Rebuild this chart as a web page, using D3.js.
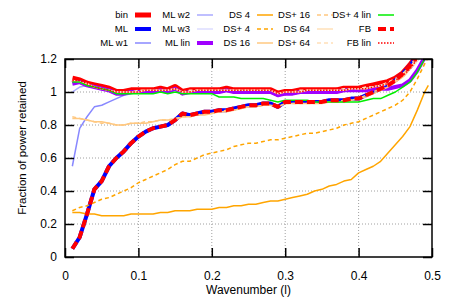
<!DOCTYPE html>
<html>
<head>
<meta charset="utf-8">
<script src="https://cdn.jsdelivr.net/npm/d3@7/dist/d3.min.js"></script>
<style>
  body { margin: 0; background: #fff; }
  svg { display: block; font-family: "Liberation Sans", Arial, sans-serif; }
</style>
</head>
<body>
<svg id="chart" width="457" height="305"></svg>
<script>
// wavenumber samples (x axis)
var wavenumber = [0.01,0.02,0.03,0.04,0.05,0.06,0.07,0.08,0.09,0.10,
                  0.11,0.12,0.13,0.14,0.15,0.16,0.17,0.18,0.19,0.20,
                  0.21,0.22,0.23,0.24,0.25,0.26,0.27,0.28,0.29,0.30,
                  0.31,0.32,0.33,0.34,0.35,0.36,0.37,0.38,0.39,0.40,
                  0.41,0.42,0.43,0.44,0.45,0.46,0.47,0.48,0.49,0.495]

var binVals = [1.08,1.07,1.05,1.04,1.03,1.02,1.00,1.00,1.01,1.01,
               1.01,1.01,1.02,1.01,1.03,1.00,1.01,1.01,1.01,1.01,
               1.01,1.02,1.01,1.01,1.01,1.01,1.01,1.01,0.99,1.00,
               1.00,1.01,1.01,1.01,1.01,1.01,1.01,1.02,1.02,1.02,
               1.03,1.04,1.05,1.06,1.08,1.11,1.16,1.22,1.29,1.32]
var mlVals = [0.05,0.12,0.26,0.41,0.46,0.55,0.60,0.64,0.69,0.73,
              0.76,0.78,0.79,0.80,0.83,0.87,0.86,0.87,0.88,0.88,
              0.89,0.89,0.90,0.91,0.92,0.92,0.93,0.93,0.91,0.94,
              0.94,0.94,0.94,0.94,0.94,0.95,0.95,0.95,0.96,0.96,
              0.98,1.00,1.02,1.04,1.07,1.11,1.16,1.22,1.29,1.32]
var mlW1Vals = [0.55,0.78,0.85,0.91,0.92,0.94,0.96,0.98,0.99,1.00,
                1.00,1.00,1.01,1.00,1.02,0.99,1.00,1.00,1.00,1.00,
                1.00,1.01,1.00,1.00,1.00,1.00,1.00,1.00,0.98,0.99,
                0.99,1.00,1.00,1.00,1.00,1.00,1.00,1.01,1.01,1.01,
                1.02,1.03,1.04,1.05,1.07,1.10,1.14,1.19,1.25,1.28]
var mlW2Vals = [1.00,1.03,1.04,1.03,1.02,1.01,1.00,1.00,1.00,1.00,
                1.00,1.00,1.01,1.00,1.02,0.99,1.00,1.00,1.00,1.00,
                1.00,1.01,1.00,1.00,1.00,1.00,1.00,1.00,0.98,0.99,
                0.99,1.00,1.00,1.00,1.00,1.00,1.00,1.01,1.01,1.01,
                1.02,1.03,1.04,1.05,1.07,1.10,1.14,1.19,1.25,1.28]
var mlW3Vals = [1.06,1.06,1.04,1.03,1.02,1.01,1.00,1.00,1.00,1.00,
                1.00,1.00,1.01,1.00,1.02,0.99,1.00,1.00,1.00,1.00,
                1.00,1.01,1.00,1.00,1.00,1.00,1.00,1.00,0.98,0.99,
                0.99,1.00,1.00,1.00,1.00,1.00,1.00,1.01,1.01,1.01,
                1.02,1.03,1.04,1.05,1.07,1.10,1.14,1.19,1.25,1.28]
var mlLinVals = [1.05,1.06,1.04,1.03,1.02,1.01,0.99,0.99,1.00,1.00,
                 1.00,1.00,1.01,1.00,1.02,0.99,1.00,1.00,1.00,1.00,
                 1.00,1.01,1.00,1.00,1.00,1.00,1.00,1.00,0.98,0.99,
                 0.99,1.00,1.00,1.00,1.00,1.00,1.00,1.01,1.01,1.01,
                 1.01,1.02,1.02,1.02,1.03,1.04,1.07,1.13,1.21,1.25]
var ds4Vals = [0.27,0.27,0.26,0.26,0.25,0.25,0.25,0.25,0.26,0.26,
               0.26,0.26,0.27,0.27,0.28,0.28,0.28,0.29,0.29,0.29,
               0.30,0.30,0.31,0.31,0.32,0.32,0.33,0.34,0.34,0.35,
               0.36,0.37,0.38,0.40,0.41,0.43,0.44,0.46,0.47,0.51,
               0.53,0.55,0.58,0.63,0.68,0.73,0.79,0.89,1.00,1.04]
var dsp4Vals = [0.28,0.30,0.31,0.33,0.35,0.36,0.38,0.40,0.42,0.45,
                0.47,0.49,0.51,0.53,0.56,0.58,0.58,0.60,0.62,0.63,
                0.64,0.65,0.67,0.68,0.69,0.69,0.70,0.71,0.71,0.72,
                0.73,0.74,0.75,0.75,0.76,0.77,0.78,0.80,0.81,0.82,
                0.84,0.86,0.88,0.90,0.92,0.95,1.00,1.08,1.17,1.21]
var ds16Vals = [0.84,0.84,0.83,0.82,0.82,0.81,0.80,0.80,0.81,0.81,
                0.81,0.82,0.83,0.83,0.83,0.85,0.85,0.86,0.86,0.87,
                0.88,0.88,0.89,0.90,0.91,0.91,0.92,0.92,0.91,0.93,
                0.93,0.93,0.93,0.93,0.93,0.94,0.94,0.94,0.95,0.96,
                0.97,0.99,1.01,1.03,1.06,1.09,1.14,1.20,1.27,1.30]
var dsp16Vals = [0.85,0.84,0.83,0.82,0.81,0.81,0.80,0.80,0.81,0.81,
                 0.82,0.82,0.83,0.83,0.84,0.85,0.85,0.86,0.87,0.87,
                 0.88,0.89,0.89,0.90,0.91,0.91,0.92,0.92,0.91,0.93,
                 0.93,0.93,0.93,0.93,0.94,0.94,0.94,0.95,0.95,0.96,
                 0.98,1.00,1.02,1.04,1.07,1.11,1.16,1.22,1.29,1.32]
var ds64Vals = [1.07,1.06,1.05,1.03,1.02,1.01,1.00,1.00,1.00,1.00,
                1.01,1.01,1.01,1.01,1.02,1.00,1.00,1.01,1.01,1.01,
                1.01,1.01,1.01,1.01,1.01,1.01,1.01,1.01,0.99,1.00,
                1.00,1.00,1.01,1.01,1.01,1.01,1.01,1.01,1.02,1.02,
                1.02,1.03,1.04,1.05,1.07,1.10,1.14,1.19,1.26,1.29]
var dsp64Vals = [1.07,1.06,1.05,1.03,1.02,1.01,1.00,1.00,1.00,1.01,
                 1.01,1.01,1.01,1.01,1.02,1.00,1.01,1.01,1.01,1.01,
                 1.01,1.01,1.01,1.01,1.01,1.01,1.01,1.01,0.99,1.00,
                 1.00,1.01,1.01,1.01,1.01,1.01,1.01,1.02,1.02,1.02,
                 1.03,1.03,1.04,1.06,1.08,1.11,1.15,1.21,1.27,1.30]
var dsp4LinVals = [1.06,1.06,1.04,1.03,1.02,1.01,0.99,0.99,0.99,0.99,
                   0.99,0.99,1.00,0.99,1.00,0.99,0.99,0.99,0.99,0.99,
                   0.97,0.97,0.97,0.96,0.96,0.96,0.96,0.95,0.94,0.95,
                   0.95,0.95,0.95,0.94,0.94,0.94,0.94,0.94,0.94,0.94,
                   0.95,0.96,0.96,0.98,1.00,1.03,1.06,1.12,1.20,1.24]
var fbVals = [0.05,0.12,0.26,0.41,0.46,0.55,0.60,0.64,0.69,0.73,
              0.76,0.78,0.79,0.80,0.83,0.87,0.86,0.87,0.88,0.88,
              0.89,0.89,0.90,0.91,0.92,0.92,0.93,0.93,0.91,0.94,
              0.94,0.94,0.94,0.94,0.94,0.95,0.95,0.95,0.96,0.96,
              0.98,1.00,1.02,1.04,1.07,1.11,1.16,1.22,1.29,1.32]
var fbLinVals = [1.07,1.07,1.05,1.03,1.02,1.01,1.00,1.00,1.00,1.00,
                 1.01,1.01,1.01,1.01,1.02,1.00,1.00,1.01,1.01,1.01,
                 1.01,1.01,1.01,1.01,1.01,1.01,1.01,1.01,0.99,1.00,
                 1.00,1.00,1.01,1.01,1.01,1.01,1.01,1.01,1.02,1.02,
                 1.02,1.03,1.04,1.05,1.07,1.10,1.14,1.20,1.27,1.30]

var yTicks = [0, 0.2, 0.4, 0.6, 0.8, 1, 1.2]
var xTicks = [0, 0.1, 0.2, 0.3, 0.4, 0.5]

// name, values, colour, width, dash
var series = [
    {name:"bin",       vals:binVals,     color:"#ff0000", width:6,   dash:null},
    {name:"ML",        vals:mlVals,      color:"#0000ff", width:4,   dash:null},
    {name:"ML w1",     vals:mlW1Vals,    color:"#8888ff", width:1.5, dash:null},
    {name:"ML w2",     vals:mlW2Vals,    color:"#aaaaff", width:1.5, dash:null},
    {name:"ML w3",     vals:mlW3Vals,    color:"#ddddff", width:1.5, dash:null},
    {name:"ML lin",    vals:mlLinVals,   color:"#a000ff", width:4,   dash:null},
    {name:"DS 4",      vals:ds4Vals,     color:"#ffa500", width:1.5, dash:null},
    {name:"DS+ 4",     vals:dsp4Vals,    color:"#ffa500", width:1.5, dash:"4,3"},
    {name:"DS 16",     vals:ds16Vals,    color:"#ffc880", width:1.5, dash:null},
    {name:"DS+ 16",    vals:dsp16Vals,   color:"#ffc880", width:1.5, dash:"4,3"},
    {name:"DS 64",     vals:ds64Vals,    color:"#ffe0b8", width:1.5, dash:null},
    {name:"DS+ 64",    vals:dsp64Vals,   color:"#ffe0b8", width:1.5, dash:"4,3"},
    {name:"DS+ 4 lin", vals:dsp4LinVals, color:"#00ee00", width:1.5, dash:null},
    {name:"FB",        vals:fbVals,      color:"#ff0000", width:4,   dash:"8,4"},
    {name:"FB lin",    vals:fbLinVals,   color:"#ff0000", width:1.5, dash:"1.5,1.5"}
]

var plot = {left:65, right:432, top:59, bottom:257}

var svg = d3.select("#chart")

var xScale = d3.scaleLinear()
    .domain([0, 0.5])
    .range([plot.left, plot.right])

var yScale = d3.scaleLinear()
    .domain([0, 1.2])
    .range([plot.bottom, plot.top])

var drawGrid = function() {
    var grid = svg.append("g")
        .attr("stroke", "#a0a0a0")
        .attr("stroke-width", 1)
        .attr("stroke-dasharray", "1,2")
    grid.selectAll(".gy")
        .data(yTicks.slice(1, -1))
        .enter()
        .append("line")
            .attr("x1", plot.left)
            .attr("x2", plot.right)
            .attr("y1", d => yScale(d))
            .attr("y2", d => yScale(d))
    grid.selectAll(".gx")
        .data(xTicks.slice(1, -1))
        .enter()
        .append("line")
            .attr("x1", d => xScale(d))
            .attr("x2", d => xScale(d))
            .attr("y1", plot.top)
            .attr("y2", plot.bottom)
}

var drawLines = function() {
    svg.append("clipPath").attr("id", "clip")
      .append("rect")
        .attr("x", plot.left)
        .attr("y", plot.top)
        .attr("width", plot.right - plot.left)
        .attr("height", plot.bottom - plot.top)

    var line = d3.line()
        .x((d, i) => xScale(wavenumber[i]))
        .y(d => yScale(d))

    svg.append("g")
        .attr("clip-path", "url(#clip)")
        .selectAll("path")
        .data(series)
        .enter()
        .append("path")
            .attr("fill", "none")
            .attr("stroke", d => d.color)
            .attr("stroke-width", d => d.width)
            .attr("stroke-dasharray", d => d.dash)
            .attr("stroke-linejoin", "round")
            .attr("d", d => line(d.vals))
}

var drawAxes = function() {
    var fmt = d3.format("")
    var tick = 9

    svg.append("g")
        .attr("transform", "translate(" + plot.left + ",0)")
        .call(d3.axisLeft(yScale).tickValues(yTicks).tickSize(-tick).tickPadding(8).tickFormat(fmt))
    svg.append("g")
        .attr("transform", "translate(" + plot.right + ",0)")
        .call(d3.axisRight(yScale).tickValues(yTicks).tickSize(-tick).tickFormat(""))
    svg.append("g")
        .attr("transform", "translate(0," + plot.bottom + ")")
        .call(d3.axisBottom(xScale).tickValues(xTicks).tickSize(-tick).tickPadding(14).tickFormat(fmt))
    svg.append("g")
        .attr("transform", "translate(0," + plot.top + ")")
        .call(d3.axisTop(xScale).tickValues(xTicks).tickSize(-tick).tickFormat(""))

    svg.selectAll(".domain").remove()
    svg.selectAll(".tick line").attr("stroke", "#000").attr("stroke-width", 1.5)
    svg.selectAll(".tick text")
        .attr("fill", "#000")
        .style("font-size", "12px")
        .style("font-family", "'Liberation Sans', Arial, sans-serif")

    svg.append("rect")
        .attr("x", plot.left)
        .attr("y", plot.top)
        .attr("width", plot.right - plot.left)
        .attr("height", plot.bottom - plot.top)
        .attr("fill", "none")
        .attr("stroke", "#000")
        .attr("stroke-width", 1.5)
}

var drawLabels = function() {
    svg.append("text")
        .attr("text-anchor", "middle")
        .attr("x", (plot.left + plot.right) / 2)
        .attr("y", 294)
        .style("font-size", "12px")
        .text("Wavenumber (l)")

    svg.append("text")
        .attr("text-anchor", "middle")
        .attr("transform", "translate(26," + 148 + ") rotate(-90)")
        .style("font-size", "11.5px")
        .text("Fraction of power retained")
}

var drawLegend = function() {
    var colRight = [128, 190, 250, 310, 371]
    var rowY = [15, 29, 43]
    var legend = svg.append("g").style("font-size", "9.5px")

    var items = legend.selectAll("g")
        .data(series)
        .enter()
        .append("g")
            .attr("transform", (d, i) => "translate(" + colRight[Math.floor(i / 3)] + "," + rowY[i % 3] + ")")

    items.append("text")
        .attr("text-anchor", "end")
        .attr("dy", "0.35em")
        .text(d => d.name)

    items.append("line")
        .attr("x1", 7)
        .attr("x2", 23)
        .attr("stroke", d => d.color)
        .attr("stroke-width", d => d.width > 4 ? 5 : d.width)
        .attr("stroke-dasharray", d => d.dash)
}

drawGrid()
drawLines()
drawAxes()
drawLabels()
drawLegend()
</script>
</body>
</html>
